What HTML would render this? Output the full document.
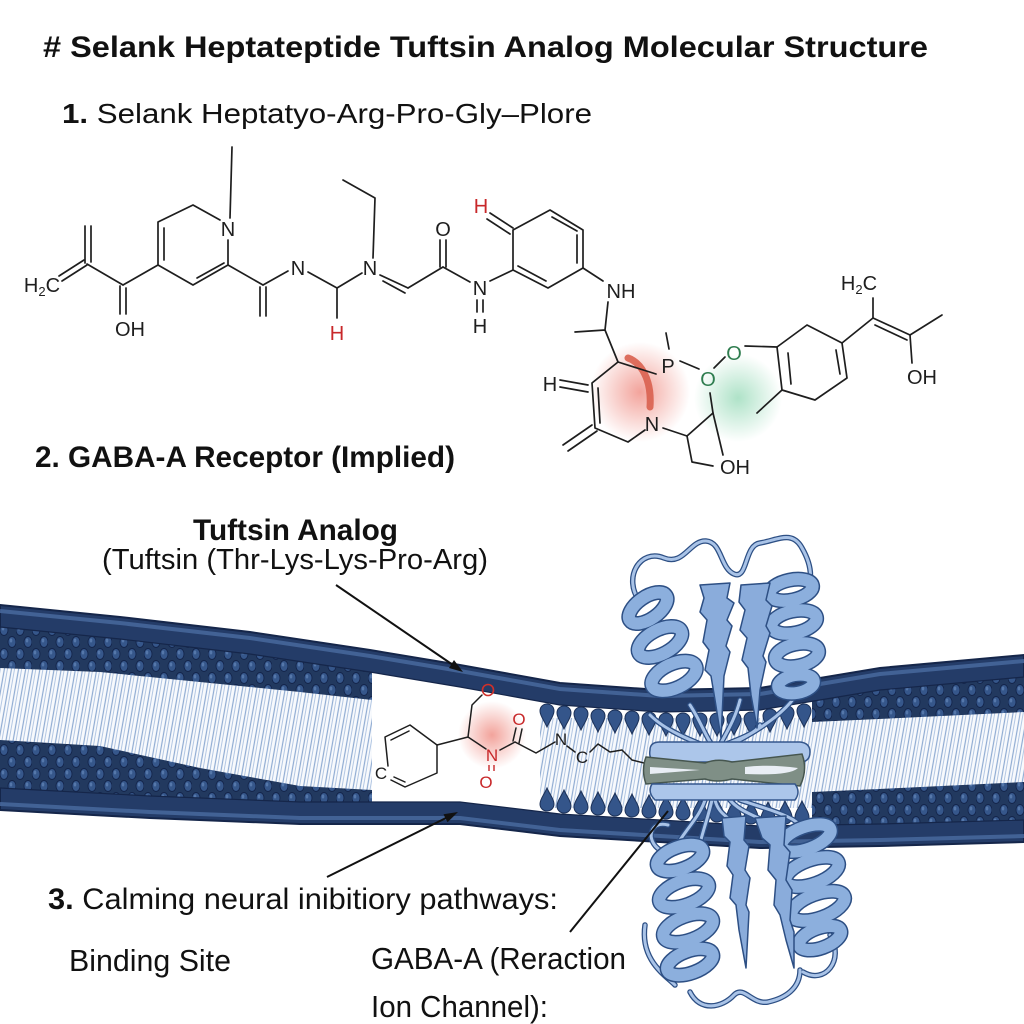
<!DOCTYPE html>
<html>
<head>
<meta charset="utf-8">
<style>
  html,body{margin:0;padding:0;background:#fff;}
  svg{display:block;}
  .t{font-family:"Liberation Sans",sans-serif;fill:#111;}
</style>
</head>
<body>
<svg width="1024" height="1024" viewBox="0 0 1024 1024" xmlns="http://www.w3.org/2000/svg">
<defs>
  <pattern id="hp" width="16" height="24" patternUnits="userSpaceOnUse">
    <rect width="16" height="24" fill="#22395f"/>
    <ellipse cx="4" cy="6" rx="4" ry="5.5" fill="#36578b" stroke="#13244a" stroke-width="0.9"/>
    <ellipse cx="3" cy="4.5" rx="1.3" ry="2" fill="#5577aa"/>
    <ellipse cx="12" cy="18" rx="4" ry="5.5" fill="#36578b" stroke="#13244a" stroke-width="0.9"/>
    <ellipse cx="11" cy="16.5" rx="1.3" ry="2" fill="#5577aa"/>
  </pattern>
  <pattern id="tp" width="7" height="40" patternUnits="userSpaceOnUse" patternTransform="rotate(10)">
    <rect width="7" height="40" fill="#f8fafd"/>
    <line x1="1.5" y1="0" x2="1.5" y2="40" stroke="#8fabd2" stroke-width="1.2"/>
    <line x1="4.5" y1="0" x2="4.5" y2="40" stroke="#b3c7e3" stroke-width="1"/>
  </pattern>
  <radialGradient id="gr" cx="0.5" cy="0.5" r="0.5">
    <stop offset="0" stop-color="#e8584a" stop-opacity="0.55"/>
    <stop offset="1" stop-color="#e8584a" stop-opacity="0"/>
  </radialGradient>
  <radialGradient id="gg" cx="0.5" cy="0.5" r="0.5">
    <stop offset="0" stop-color="#4cbf84" stop-opacity="0.45"/>
    <stop offset="1" stop-color="#4cbf84" stop-opacity="0"/>
  </radialGradient>
  <clipPath id="inner">
    <polygon points="0,627 120,639 250,654 370,672 460,687 560,705 660,712 760,710 880,690 1024,677 1024,820 880,824 760,826 660,820 560,814 460,802 300,802 150,796 0,788"/>
  </clipPath>
  <path id="drop" d="M0,-7 C4,-7 7,-4 7,0 C7,5 3,9 0,16 C-3,9 -7,5 -7,0 C-7,-4 -4,-7 0,-7Z"/>
  <g id="tubes">
    <path d="M640,602 C622,578 640,548 664,558 C684,566 690,540 706,541 C722,542 720,568 734,574 C748,580 744,545 760,543 C778,540 792,530 802,548 C810,562 814,578 806,592"/>
    <path d="M690,705 C700,720 705,735 712,745"/>
    <path d="M760,725 C755,735 730,742 722,746"/>
    <path d="M800,688 C790,710 760,730 728,746"/>
    <path d="M650,715 C665,730 690,740 705,746"/>
    <path d="M740,700 C735,720 725,735 720,745"/>
    <path d="M705,800 C700,815 690,825 680,840"/>
    <path d="M715,800 C718,812 725,815 730,820"/>
    <path d="M730,800 C740,812 755,815 765,822"/>
    <path d="M740,800 C770,810 790,815 800,825"/>
    <path d="M712,800 C705,830 695,850 700,860"/>
    <path d="M690,992 C700,1012 722,1008 734,995 C744,985 752,1005 768,1002 C786,998 800,988 800,970"/>
    <path d="M830,935 C845,960 825,985 803,972"/>
    <path d="M660,850 C645,840 650,820 668,825"/>
    <path d="M645,925 C640,960 665,975 675,985"/>
  </g>
  <g id="coils">
    <ellipse cx="648" cy="608" rx="22" ry="11" transform="rotate(-35 648 608)"/>
    <ellipse cx="660" cy="642" rx="24" ry="12" transform="rotate(-28 660 642)"/>
    <ellipse cx="674" cy="676" rx="24" ry="12" transform="rotate(-25 674 676)"/>
    <ellipse cx="791" cy="590" rx="22" ry="10" transform="rotate(-12 791 590)"/>
    <ellipse cx="794" cy="622" rx="23" ry="11" transform="rotate(-12 794 622)"/>
    <ellipse cx="797" cy="655" rx="22" ry="11" transform="rotate(-12 797 655)"/>
    <ellipse cx="796" cy="684" rx="18" ry="9" transform="rotate(-10 796 684)"/>
    <ellipse cx="680" cy="858" rx="24" ry="11" transform="rotate(-20 680 858)"/>
    <ellipse cx="684" cy="893" rx="26" ry="12" transform="rotate(-20 684 893)"/>
    <ellipse cx="688" cy="928" rx="26" ry="12" transform="rotate(-20 688 928)"/>
    <ellipse cx="690" cy="962" rx="24" ry="11" transform="rotate(-20 690 962)"/>
    <ellipse cx="806" cy="838" rx="26" ry="11" transform="rotate(-20 806 838)"/>
    <ellipse cx="812" cy="872" rx="28" ry="12" transform="rotate(-20 812 872)"/>
    <ellipse cx="818" cy="906" rx="28" ry="12" transform="rotate(-20 818 906)"/>
    <ellipse cx="820" cy="938" rx="22" ry="10" transform="rotate(-20 820 938)"/>
  </g>
</defs>

<rect width="1024" height="1024" fill="#fff"/>

<!-- ===== Top chemical structure ===== -->
<circle cx="640" cy="392" r="50" fill="url(#gr)"/>
<circle cx="738" cy="398" r="44" fill="url(#gg)"/>
<path d="M628,358 C640,362 652,378 650,407" fill="none" stroke="#d9604f" stroke-width="7" stroke-linecap="round" opacity="0.9"/>

<g stroke="#1e1e1e" stroke-width="1.7" fill="none" stroke-linecap="round" stroke-linejoin="round">
  <path d="M62,281 L87,265 M59,276 L84,260"/>
  <path d="M85,263 L85,226 M91,262 L91,226"/>
  <path d="M87,264 L123,285"/>
  <path d="M120,286 L120,314 M126,288 L126,314"/>
  <path d="M123,285 L158,265 L158,222 L193,205 L220,220"/>
  <path d="M164,260 L164,228"/>
  <path d="M228,240 L228,265 L193,285 L158,265"/>
  <path d="M197,278 L224,263"/>
  <path d="M230,218 L232,147"/>
  <path d="M228,265 L263,285"/>
  <path d="M260,287 L260,316 M266,287 L266,316"/>
  <path d="M263,285 L288,271"/>
  <path d="M308,272 L337,288 L337,318"/>
  <path d="M337,288 L362,273"/>
  <path d="M373,258 L375,198 L343,180"/>
  <path d="M380,275 L408,288 M383,281 L405,293"/>
  <path d="M408,288 L443,267"/>
  <path d="M440,267 L440,240 M446,267 L446,240"/>
  <path d="M443,267 L470,282"/>
  <path d="M477,300 L477,312 M483,300 L483,312"/>
  <path d="M490,281 L513,270"/>
  <path d="M513,270 L513,230 L550,210 L583,230 L583,268 L548,288 Z"/>
  <path d="M577,235 L577,263 M552,217 L577,231 M518,266 L546,281"/>
  <path d="M490,213 L513,228 M487,219 L510,234"/>
  <path d="M583,268 L603,281"/>
  <path d="M608,302 L605,330 L575,332 M605,330 L618,362"/>
  <path d="M618,362 L592,383 L595,428 M598,388 L600,423 M595,428 L628,442 L645,430"/>
  <path d="M618,362 L656,374"/>
  <path d="M666,333 L669,349"/>
  <path d="M560,380 L588,385 M560,387 L588,392"/>
  <path d="M592,425 L563,445 M597,431 L568,451"/>
  <path d="M663,428 L687,436 L692,462 L713,466"/>
  <path d="M687,436 L713,413 L723,455"/>
  <path d="M713,413 L710,393"/>
  <path d="M680,361 L699,369"/>
  <path d="M714,368 L725,357"/>
  <path d="M745,346 L777,347"/>
  <path d="M777,347 L807,325 L842,343 L847,378 L815,400 L782,390 Z"/>
  <path d="M788,353 L791,384 M836,350 L840,374"/>
  <path d="M782,390 L757,413"/>
  <path d="M842,343 L873,318 L873,298"/>
  <path d="M873,318 L910,335 M875,325 L907,340"/>
  <path d="M910,335 L942,315 M910,335 L912,363"/>
</g>
<g font-family="Liberation Sans, sans-serif" font-size="20" fill="#1e1e1e" text-anchor="middle">
  <text x="42" y="292" text-anchor="middle">H<tspan font-size="13" dy="4">2</tspan><tspan dy="-4">C</tspan></text>
  <text x="130" y="336">OH</text>
  <text x="228" y="236">N</text>
  <text x="298" y="275">N</text>
  <text x="337" y="340" fill="#c8282a">H</text>
  <text x="370" y="275">N</text>
  <text x="443" y="236">O</text>
  <text x="480" y="295">N</text>
  <text x="480" y="333">H</text>
  <text x="481" y="213" fill="#c8282a">H</text>
  <text x="621" y="298">NH</text>
  <text x="668" y="373">P</text>
  <text x="550" y="391">H</text>
  <text x="652" y="431">N</text>
  <text x="735" y="474">OH</text>
  <text x="708" y="386" fill="#2f7d4f">O</text>
  <text x="734" y="360" fill="#2f7d4f">O</text>
  <text x="859" y="290">H<tspan font-size="13" dy="4">2</tspan><tspan dy="-4">C</tspan></text>
  <text x="922" y="384">OH</text>
</g>

<!-- ===== Membrane ===== -->
<polygon points="0,605 120,617 250,632 370,650 460,665 560,683 660,690 760,688 880,668 1024,655 1024,842 880,846 760,848 660,842 560,836 460,824 300,824 150,818 0,810" fill="#243c68" stroke="#15264a" stroke-width="2"/>
<polyline points="0,611 120,623 250,638 370,656 460,671 560,689 660,696 760,694 880,674 1024,661" fill="none" stroke="#48689d" stroke-width="4" opacity="0.85"/>
<polyline points="0,804 150,812 300,818 460,818 560,830 660,836 760,842 880,840 1024,836" fill="none" stroke="#48689d" stroke-width="4" opacity="0.85"/>

<g clip-path="url(#inner)">
  <rect x="0" y="600" width="1024" height="260" fill="url(#hp)"/>
  <polygon points="0,668 100,672 200,682 300,692 372,700 372,790 300,786 200,768 100,746 0,740" fill="url(#tp)"/>
  <polygon points="812,722 900,718 1024,712 1024,782 900,788 812,792" fill="url(#tp)"/>
  <rect x="372" y="600" width="440" height="260" fill="#ffffff"/>
  <rect x="540" y="718" width="272" height="90" fill="url(#tp)"/>
</g>
<polyline points="0,627 120,639 250,654 370,672 460,687 560,705 660,712 760,710 880,690 1024,677" fill="none" stroke="#15264a" stroke-width="1.2"/>
<polyline points="0,788 150,796 300,802 460,802 560,814 660,820 760,826 880,824 1024,820" fill="none" stroke="#15264a" stroke-width="1.2"/>

<!-- middle heads -->
<g fill="#34558a" stroke="#1c3158" stroke-width="1">
  <use href="#drop" transform="translate(547,711)"/>
  <use href="#drop" transform="translate(564,713)"/>
  <use href="#drop" transform="translate(581,714)"/>
  <use href="#drop" transform="translate(598,716)"/>
  <use href="#drop" transform="translate(615,717)"/>
  <use href="#drop" transform="translate(632,718)"/>
  <use href="#drop" transform="translate(649,719)"/>
  <use href="#drop" transform="translate(666,720)"/>
  <use href="#drop" transform="translate(683,720)"/>
  <use href="#drop" transform="translate(700,720)"/>
  <use href="#drop" transform="translate(717,720)"/>
  <use href="#drop" transform="translate(734,719)"/>
  <use href="#drop" transform="translate(751,719)"/>
  <use href="#drop" transform="translate(770,716)"/>
  <use href="#drop" transform="translate(787,713)"/>
  <use href="#drop" transform="translate(804,711)"/>
  <use href="#drop" transform="translate(547,804) scale(1,-1)"/>
  <use href="#drop" transform="translate(564,806) scale(1,-1)"/>
  <use href="#drop" transform="translate(581,807) scale(1,-1)"/>
  <use href="#drop" transform="translate(598,808) scale(1,-1)"/>
  <use href="#drop" transform="translate(615,809) scale(1,-1)"/>
  <use href="#drop" transform="translate(632,810) scale(1,-1)"/>
  <use href="#drop" transform="translate(649,811) scale(1,-1)"/>
  <use href="#drop" transform="translate(666,812) scale(1,-1)"/>
  <use href="#drop" transform="translate(683,813) scale(1,-1)"/>
  <use href="#drop" transform="translate(700,814) scale(1,-1)"/>
  <use href="#drop" transform="translate(717,815) scale(1,-1)"/>
  <use href="#drop" transform="translate(734,816) scale(1,-1)"/>
  <use href="#drop" transform="translate(751,817) scale(1,-1)"/>
  <use href="#drop" transform="translate(768,818) scale(1,-1)"/>
  <use href="#drop" transform="translate(785,817) scale(1,-1)"/>
  <use href="#drop" transform="translate(802,817) scale(1,-1)"/>
</g>

<!-- molecule in membrane gap -->
<circle cx="492" cy="735" r="34" fill="url(#gr)"/>
<g stroke="#1e1e1e" stroke-width="1.5" fill="none" stroke-linecap="round" stroke-linejoin="round">
  <path d="M388,766 L385,737 L410,725 L437,745 L437,773 L405,787 L391,780"/>
  <path d="M391,740 L409,731 M394,777 L405,782"/>
  <path d="M437,745 L468,737 L472,705 L482,695"/>
  <path d="M468,737 L486,749"/>
  <path d="M500,750 L515,742 M513,741 L516,728 M519,743 L522,729"/>
  <path d="M515,742 L536,753 L555,742"/>
  <path d="M567,746 L575,752"/>
  <path d="M590,752 L598,744 L610,752 L622,750 L632,760 L648,764"/>
</g>
<path d="M489,765 L489,771 M494,765 L494,771" stroke="#c8282a" stroke-width="1.4"/>
<circle cx="488" cy="690" r="5.5" fill="none" stroke="#d0302a" stroke-width="1.6"/>
<g font-family="Liberation Sans, sans-serif" font-size="17" text-anchor="middle">
  <text x="381" y="779" fill="#1e1e1e">C</text>
  <text x="492" y="761" fill="#c8282a">N</text>
  <text x="486" y="788" fill="#c8282a">O</text>
  <text x="519" y="725" fill="#c8282a">O</text>
  <text x="561" y="745" fill="#1e1e1e">N</text>
  <text x="582" y="763" fill="#1e1e1e">C</text>
</g>

<!-- ===== Protein ===== -->
<use href="#tubes" fill="none" stroke="#2d4f84" stroke-width="5.5" stroke-linecap="round"/>
<use href="#tubes" fill="none" stroke="#a9c3e7" stroke-width="3" stroke-linecap="round"/>
<use href="#coils" fill="none" stroke="#2d4f84" stroke-width="15"/>
<use href="#coils" fill="none" stroke="#8cafdd" stroke-width="12"/>
<g fill="#8aacdb" stroke="#2d4f84" stroke-width="1.5" stroke-linejoin="round">
  <polygon points="700,585 730,583 727,598 734,603 727,620 732,626 726,646 730,652 724,676 721,738 715,700 711,676 705,670 709,650 703,642 707,620 700,612 704,598"/>
  <polygon points="741,585 770,583 766,600 772,606 766,626 770,633 763,656 766,662 760,690 757,728 751,695 748,668 742,660 747,638 740,630 745,610 739,602"/>
  <polygon points="722,818 746,816 744,840 749,846 745,870 750,878 746,905 749,912 746,968 739,930 736,905 730,898 733,875 727,866 730,842 724,836"/>
  <polygon points="755,818 786,816 784,845 790,852 786,880 792,890 790,920 794,932 794,968 786,940 780,915 774,905 776,880 768,870 770,845 762,838"/>
</g>
<!-- central bar -->
<path d="M650,750 Q650,742 660,742 L800,742 Q810,743 810,752 Q810,762 800,762 L660,762 Q648,762 650,750Z" fill="#acc6ea" stroke="#35578c" stroke-width="1.5"/>
<path d="M646,757 L705,763 Q717,758 732,762 L802,754 Q808,770 800,786 L732,779 Q717,783 705,779 L646,784 Q641,770 646,757Z" fill="#7f8f86" stroke="#46564f" stroke-width="1.5"/>
<path d="M650,767 L700,770 L650,774Z" fill="#e9eef5"/>
<path d="M745,767 Q770,764 798,768 Q790,776 745,774Z" fill="#e9eef5"/>
<path d="M652,784 L795,784 Q801,792 795,800 L655,800 Q647,792 652,784Z" fill="#acc6ea" stroke="#35578c" stroke-width="1.5"/>

<!-- ===== Arrows ===== -->
<g stroke="#111" stroke-width="2" fill="none">
  <line x1="336" y1="585" x2="453" y2="665"/>
  <line x1="327" y1="877" x2="448" y2="817"/>
  <line x1="570" y1="932" x2="668" y2="811"/>
</g>
<polygon points="463,672 449,668 454,660" fill="#111"/>
<polygon points="458,812 447.5,822.2 443.5,814.2" fill="#111"/>

<!-- ===== Text ===== -->
<text class="t" x="43" y="57" font-size="30" font-weight="bold" textLength="885" lengthAdjust="spacingAndGlyphs"># Selank Heptateptide Tuftsin Analog Molecular Structure</text>
<text class="t" x="62" y="123" font-size="28" textLength="530" lengthAdjust="spacingAndGlyphs"><tspan font-weight="bold">1.</tspan> Selank Heptatyo-Arg-Pro-Gly–Plore</text>
<text class="t" x="35" y="467" font-size="30" font-weight="bold" textLength="420" lengthAdjust="spacingAndGlyphs">2. GABA-A Receptor (Implied)</text>
<text class="t" x="193" y="540" font-size="30" font-weight="bold" textLength="205" lengthAdjust="spacingAndGlyphs">Tuftsin Analog</text>
<text class="t" x="102" y="569" font-size="29" textLength="386" lengthAdjust="spacingAndGlyphs">(Tuftsin (Thr-Lys-Lys-Pro-Arg)</text>
<text class="t" x="48" y="909" font-size="30" textLength="510" lengthAdjust="spacingAndGlyphs"><tspan font-weight="bold">3.</tspan> Calming neural inibitiory pathways:</text>
<text class="t" x="69" y="971" font-size="31" textLength="162" lengthAdjust="spacingAndGlyphs">Binding Site</text>
<text class="t" x="371" y="969" font-size="31" textLength="255" lengthAdjust="spacingAndGlyphs">GABA-A (Reraction</text>
<text class="t" x="371" y="1017" font-size="31" textLength="177" lengthAdjust="spacingAndGlyphs">Ion Channel):</text>
</svg>
</body>
</html>
